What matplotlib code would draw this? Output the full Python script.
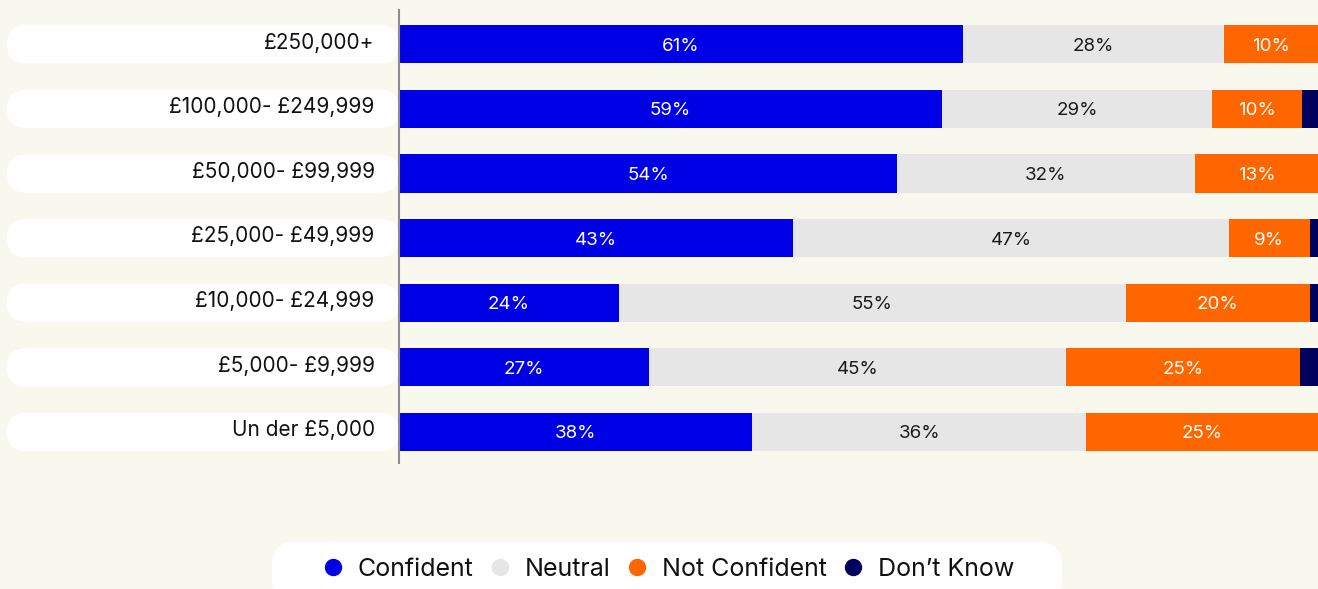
import matplotlib
matplotlib.use("Agg")
import numpy as np
import matplotlib.pyplot as plt
from matplotlib.patches import FancyBboxPatch
from matplotlib.lines import Line2D
from matplotlib.transforms import IdentityTransform

# ---- data ----
categories = ["£250,000+", "£100,000- £249,999", "£50,000- £99,999",
              "£25,000- £49,999", "£10,000- £24,999", "£5,000- £9,999",
              "Un der £5,000"]
confident = [61.4, 59.1, 54.2, 42.9, 23.9, 27.2, 38.4]
neutral = [28.4, 29.4, 32.4, 47.4, 55.2, 45.4, 36.4]
not_confident = [10.2, 9.8, 13.4, 8.8, 20.0, 25.4, 25.2]
dont_know = [0.0, 1.7, 0.0, 0.9, 0.9, 2.0, 0.0]

series_names = ["Confident", "Neutral", "Not Confident", "Don\u2019t Know"]
colors = ["#0000e6", "#e6e6e6", "#ff6600", "#00005f"]
label_colors = ["white", "#1a1a1a", "white", None]

BG = "#f9f8ef"
plt.rcParams["font.family"] = ["Inter", "DejaVu Sans"]

W, H = 1318, 589
fig = plt.figure(figsize=(W / 100, H / 100), dpi=100, facecolor=BG)
# axes occupy pixel columns 399..1318 and rows 10..463
ax = fig.add_axes([399 / W, (H - 463) / H, 1 - 399 / W, 453 / H])
ax.set_facecolor(BG)

y = np.arange(len(categories))
bar_h = 0.59
left = np.zeros(len(categories))
for vals, col, tcol in zip([confident, neutral, not_confident, dont_know],
                           colors, label_colors):
    vals = np.array(vals)
    ax.barh(y, vals, left=left, height=bar_h, color=col, zorder=3)
    if tcol is not None:
        for yi, l, v in zip(y, left, vals):
            if v > 0:
                ax.text(l + v / 2, yi + 0.03, f"{v:.0f}%", ha="center", va="center",
                        color=tcol, fontsize=13.5, zorder=4)
    left += vals

ax.set_xlim(0, 100)
ax.set_ylim(6.48, -0.53)
ax.set_xticks([])
ax.set_yticks([])
for s in ["top", "right", "bottom"]:
    ax.spines[s].set_visible(False)
ax.spines["left"].set_color("#8c8c8c")
ax.spines["left"].set_linewidth(1.5)
ax.spines["left"].set_zorder(5)

# category pills in pixel coordinates, placed from the data transform
for yi, cat in zip(y, categories):
    _, ytop = ax.transData.transform((0, yi - bar_h / 2))
    x0, ybot = ax.transData.transform((0, yi + bar_h / 2))
    ph = ytop - ybot
    pill = FancyBboxPatch((7, ybot), x0 - 7, ph,
                          boxstyle=f"round,pad=0,rounding_size={ph / 2}",
                          transform=IdentityTransform(), facecolor="white",
                          edgecolor="none", zorder=-1)
    fig.add_artist(pill)
    ax.annotate(cat, xy=(0, yi), xytext=(-17.5, 1.2), textcoords="offset points",
                ha="right", va="center", fontsize=15, color="#111111",
                annotation_clip=False)

# legend pill
leg_pill = FancyBboxPatch((272, -12), 790, 59,
                          boxstyle="round,pad=0,rounding_size=23",
                          transform=IdentityTransform(), facecolor="white",
                          edgecolor="none", zorder=-1)
fig.add_artist(leg_pill)
handles = [Line2D([], [], marker="o", linestyle="none", markersize=11.5,
                  markerfacecolor=c, markeredgecolor=c) for c in colors]
fig.legend(handles, series_names, loc="center", bbox_to_anchor=(667 / W, 1 - 569 / H),
           ncol=4, frameon=False, fontsize=18, handlelength=1.0,
           handletextpad=0.5, columnspacing=0.55, labelcolor="#111111")

fig.savefig("out.png", dpi=100, facecolor=BG)
